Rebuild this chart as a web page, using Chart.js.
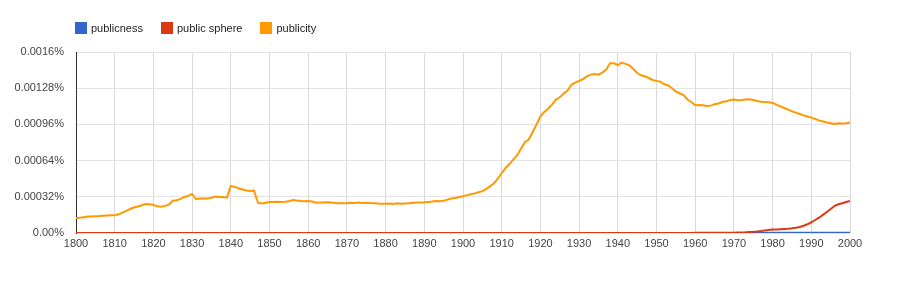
<!DOCTYPE html>
<html>
<head>
<meta charset="utf-8">
<script src="https://cdn.jsdelivr.net/npm/chart.js@4/dist/chart.umd.min.js"></script>
<style>
  html, body { margin: 0; padding: 0; background: #fff; }
  body { width: 900px; height: 282px; position: relative; overflow: hidden; font-family: "Liberation Sans", Arial, sans-serif; }
  #legend { position: absolute; left: 75px; top: 22px; display: flex; align-items: center; font-size: 11px; color: #222; }
  .item { display: flex; align-items: center; margin-right: 18px; }
  .sw { width: 12px; height: 12px; margin-right: 4px; }
  #wrap { position: absolute; left: 0; top: 0; width: 900px; height: 282px; }
</style>
</head>
<body>
<div id="wrap"><canvas id="c" width="900" height="282"></canvas></div>
<div id="legend"></div>
<script>
const seriesNames = ["publicness", "public sphere", "publicity"];
const seriesColors = ["#3366cc", "#dc3912", "#ff9900"];

const years = [
  1800,1801,1802,1803,1804,1805,1806,1807,1808,1809,
  1810,1811,1812,1813,1814,1815,1816,1817,1818,1819,
  1820,1821,1822,1823,1824,1825,1826,1827,1828,1829,
  1830,1831,1832,1833,1834,1835,1836,1837,1838,1839,
  1840,1841,1842,1843,1844,1845,1846,1847,1848,1849,
  1850,1851,1852,1853,1854,1855,1856,1857,1858,1859,
  1860,1861,1862,1863,1864,1865,1866,1867,1868,1869,
  1870,1871,1872,1873,1874,1875,1876,1877,1878,1879,
  1880,1881,1882,1883,1884,1885,1886,1887,1888,1889,
  1890,1891,1892,1893,1894,1895,1896,1897,1898,1899,
  1900,1901,1902,1903,1904,1905,1906,1907,1908,1909,
  1910,1911,1912,1913,1914,1915,1916,1917,1918,1919,
  1920,1921,1922,1923,1924,1925,1926,1927,1928,1929,
  1930,1931,1932,1933,1934,1935,1936,1937,1938,1939,
  1940,1941,1942,1943,1944,1945,1946,1947,1948,1949,
  1950,1951,1952,1953,1954,1955,1956,1957,1958,1959,
  1960,1961,1962,1963,1964,1965,1966,1967,1968,1969,
  1970,1971,1972,1973,1974,1975,1976,1977,1978,1979,
  1980,1981,1982,1983,1984,1985,1986,1987,1988,1989,
  1990,1991,1992,1993,1994,1995,1996,1997,1998,1999,
  2000
];

const publicness = [
  0,0,0,0,0,0,0,0,0,0,
  0,0,0,0,0,0,0,0,0,0,
  0,0,0,0,0,0,0,0,0,0,
  0,0,0,0,0,0,0,0,0,0,
  0,0,0,0,0,0,0,0,0,0,
  0,0,0,0,0,0,0,0,0,0,
  0,0,0,0,0,0,0,0,0,0,
  0,0,0,0,0,0,0,0,0,0,
  0,0,0,0,0,0,0,0,0,0,
  0,0,0,0,0,0,0,0,0,0,
  0,0,0,0,0,0,0,0,0,0,
  0,0,0,0,0,0,0,0,0,0,
  0,0,0,0,0,0,0,0,0,0,
  0,0,0,0,0,0,0,0,0,0,
  0,0,0,0,0,0,0,0,0,0,
  0,0,0,0,0,0,0,0,0,0,
  0,0,0,0,0,0,0,0,0,0,
  0.000001,0.000001,0.000001,0.000001,0.000001,0.000001,0.000001,0.000001,0.000001,0.000001,
  0.000002,0.000002,0.000002,0.000002,0.000002,0.000002,0.000002,0.000002,0.000002,0.000002,
  0.000002,0.000003,0.000003,0.000003,0.000003,0.000003,0.000003,0.000003,0.000003,0.000003,
  0.000003
];

const publicSphere = [
  0,0,0,0,0,0,0,0,0,0,
  0,0,0,0,0,0,0,0,0,0,
  0,0,0,0,0,0,0,0,0,0,
  0,0,0,0,0,0,0,0,0,0,
  0,0,0,0,0,0,0,0,0,0,
  0,0,0,0,0,0,0,0,0,0,
  0,0,0,0,0,0,0,0,0,0,
  0,0,0,0,0,0,0,0,0,0,
  0,0,0,0,0,0,0,0,0,0,
  0,0,0,0,0,0,0,0,0,0,
  0,0,0,0,0,0,0,0,0,0,
  0,0,0,0,0,0,0,0,0,0,
  0,0,0,0,0,0,0,0,0,0,
  0,0,0,0,0,0,0,0,0,0,
  0,0,0,0,0,0,0,0,0,0,
  0.000001,0.000001,0.000001,0.000001,0.000001,0.000001,0.000001,0.000001,0.000001,0.000001,
  0.000002,0.000002,0.000002,0.000002,0.000002,0.000002,0.000002,0.000003,0.000003,0.000003,
  0.000003,0.000004,0.000005,0.000006,0.000008,0.000010,0.000013,0.000017,0.000022,0.000027,
  0.000030,0.000032,0.000034,0.000036,0.000038,0.000041,0.000046,0.000053,0.000064,0.000077,
  0.000095,0.000115,0.000135,0.000160,0.000186,0.000212,0.000238,0.000254,0.000263,0.000274,
  0.000283
];

const publicity = [
  0.000133,0.000135,0.000140,0.000145,0.000145,0.000148,0.000150,0.000153,0.000155,0.000156,
  0.000156,0.000165,0.000180,0.000195,0.000212,0.000225,0.000235,0.000245,0.000256,0.000255,
  0.000250,0.000236,0.000232,0.000240,0.000250,0.000285,0.000290,0.000302,0.000318,0.000328,
  0.000345,0.000300,0.000305,0.000305,0.000304,0.000312,0.000322,0.000318,0.000318,0.000312,
  0.000416,0.000408,0.000395,0.000385,0.000375,0.000372,0.000376,0.000268,0.000262,0.000268,
  0.000275,0.000274,0.000276,0.000274,0.000276,0.000280,0.000292,0.000287,0.000283,0.000280,
  0.000282,0.000278,0.000268,0.000270,0.000269,0.000272,0.000270,0.000266,0.000262,0.000262,
  0.000264,0.000268,0.000266,0.000270,0.000266,0.000268,0.000265,0.000264,0.000260,0.000258,
  0.000258,0.000260,0.000257,0.000262,0.000258,0.000260,0.000262,0.000266,0.000270,0.000270,
  0.000272,0.000275,0.000278,0.000282,0.000280,0.000285,0.000295,0.000305,0.000310,0.000318,
  0.000325,0.000335,0.000342,0.000350,0.000360,0.000370,0.000390,0.000412,0.000440,0.000480,
  0.000530,0.000575,0.000610,0.000649,0.000687,0.000746,0.000802,0.000826,0.000893,0.000960,
  0.001030,0.001070,0.001100,0.001135,0.001180,0.001200,0.001230,0.001260,0.001310,0.001330,
  0.001344,0.001360,0.001385,0.001400,0.001405,0.001400,0.001418,0.001444,0.001500,0.001500,
  0.001485,0.001506,0.001495,0.001482,0.001450,0.001414,0.001394,0.001385,0.001370,0.001353,
  0.001344,0.001338,0.001315,0.001306,0.001280,0.001250,0.001235,0.001220,0.001180,0.001158,
  0.001130,0.001132,0.001130,0.001123,0.001126,0.001138,0.001144,0.001158,0.001164,0.001176,
  0.001180,0.001173,0.001176,0.001180,0.001182,0.001176,0.001167,0.001160,0.001158,0.001155,
  0.001150,0.001135,0.001120,0.001105,0.001090,0.001076,0.001064,0.001052,0.001040,0.001030,
  0.001020,0.001008,0.000996,0.000985,0.000976,0.000970,0.000964,0.000970,0.000967,0.000970,
  0.000976
];

const xTickValues = [1800,1810,1820,1830,1840,1850,1860,1870,1880,1890,1900,1910,1920,1930,1940,1950,1960,1970,1980,1990,2000];
const yTickValues = [0, 0.00032, 0.00064, 0.00096, 0.00128, 0.0016];
const yTickLabels = ["0.00%", "0.00032%", "0.00064%", "0.00096%", "0.00128%", "0.0016%"];

const seriesValues = [publicness, publicSphere, publicity];

// HTML legend
const legend = document.getElementById('legend');
seriesNames.forEach((name, i) => {
  const it = document.createElement('div'); it.className = 'item';
  const sw = document.createElement('div'); sw.className = 'sw'; sw.style.background = seriesColors[i];
  const tx = document.createElement('span'); tx.textContent = name;
  it.appendChild(sw); it.appendChild(tx); legend.appendChild(it);
});

const datasets = seriesNames.map((name, i) => ({
  label: name,
  data: years.map((yr, j) => ({ x: yr, y: seriesValues[i][j] })),
  borderColor: seriesColors[i],
  backgroundColor: seriesColors[i],
  borderWidth: 2,
  pointRadius: 0,
  tension: 0,
  fill: false,
  order: 3 - i
}));

new Chart(document.getElementById('c'), {
  type: 'line',
  data: { datasets },
  options: {
    responsive: false,
    animation: false,
    layout: { padding: { left: 0, right: 50, top: 52, bottom: 0 } },
    plugins: { legend: { display: false }, tooltip: { enabled: false } },
    scales: {
      x: {
        type: 'linear',
        min: 1800, max: 2000,
        afterBuildTicks: (axis) => { axis.ticks = xTickValues.map(v => ({ value: v })); },
        afterFit: (axis) => { axis.height = 49; },
        grid: { color: '#d9d9d9', drawTicks: false, lineWidth: 1 },
        border: { display: false },
        ticks: {
          padding: 4,
          color: '#444',
          font: { family: '"Liberation Sans", Arial, sans-serif', size: 11 },
          maxRotation: 0,
          autoSkip: false,
          callback: (v) => String(v)
        }
      },
      y: {
        type: 'linear',
        min: 0, max: 0.0016,
        afterBuildTicks: (axis) => { axis.ticks = yTickValues.map(v => ({ value: v })); },
        afterFit: (axis) => { axis.width = 76; },
        grid: { color: '#e3e3e3', drawTicks: false, lineWidth: 1 },
        border: { display: true, color: '#333', width: 1 },
        ticks: {
          padding: 12,
          color: '#444',
          font: { family: '"Liberation Sans", Arial, sans-serif', size: 11 },
          autoSkip: false,
          callback: (v, idx) => yTickLabels[idx]
        }
      }
    }
  }
});
</script>
</body>
</html>
